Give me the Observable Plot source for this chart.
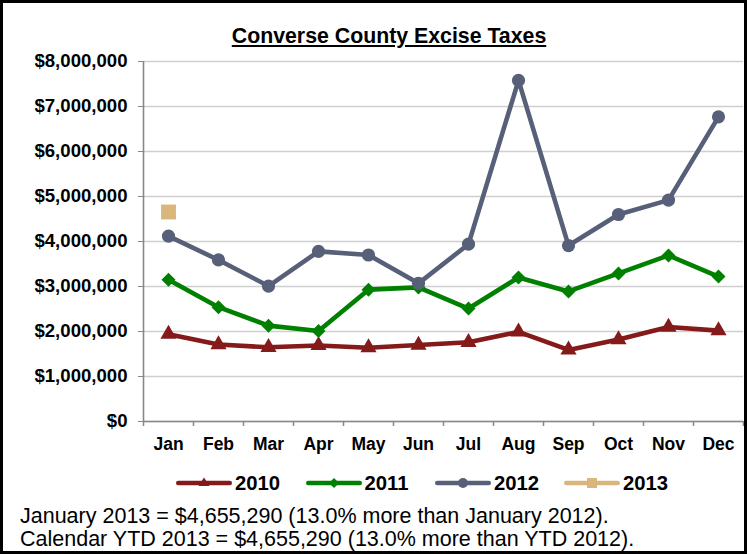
<!DOCTYPE html>
<html><head><meta charset="utf-8">
<script src="https://cdn.jsdelivr.net/npm/d3@7"></script>
<script src="https://cdn.jsdelivr.net/npm/@observablehq/plot@0.6"></script>
<style>
body{margin:0;background:#fff;font-family:"Liberation Sans",Arial,sans-serif;}
#wrap{position:relative;width:747px;height:554px;overflow:hidden;background:#fff;}
#frame{position:absolute;left:0;top:0;width:747px;height:554px;box-sizing:border-box;border:3px solid #000;pointer-events:none;}
#chart{position:absolute;left:0;top:0;}
#title{position:absolute;left:389px;top:25.5px;transform:translateX(-50%);font-weight:bold;font-size:21.3px;line-height:21px;text-decoration:underline;white-space:nowrap;color:#000;}
.leg{position:absolute;top:471px;height:24px;display:flex;align-items:center;font-weight:bold;font-size:20.3px;line-height:20px;color:#000;white-space:nowrap;}
.leg svg{margin-right:3px;}
#foot{position:absolute;left:20px;top:504.75px;font-size:21.5px;line-height:23px;color:#000;white-space:nowrap;}
</style></head>
<body>
<div id="wrap">
  <div id="chart"></div>
  <div id="title">Converse County Excise Taxes</div>
  <div id="legend"></div>
  <div id="foot">January 2013 = $4,655,290 (13.0% more than January 2012).<br>Calendar YTD 2013 = $4,655,290 (13.0% more than YTD 2012).</div>
  <div id="frame"></div>
</div>
<script>
const months = ["Jan","Feb","Mar","Apr","May","Jun","Jul","Aug","Sep","Oct","Nov","Dec"];
const v2010 = [1940000, 1710000, 1650000, 1690000, 1640000, 1700000, 1760000, 1990000, 1590000, 1820000, 2100000, 2020000];
const v2011 = [3150000, 2540000, 2130000, 2010000, 2930000, 2980000, 2510000, 3200000, 2890000, 3290000, 3690000, 3220000];
const v2012 = [4120000, 3590000, 3010000, 3780000, 3700000, 3070000, 3940000, 7580000, 3910000, 4600000, 4920000, 6770000];
const v2013 = [4655290];
const years = ["2010","2011","2012","2013"];
const colors = {"2010":"#851A1A","2011":"#008000","2012":"#576078","2013":"#D9B77C"};
const symbols = {"2010":"triangle","2011":"diamond2","2012":"circle","2013":"square"};
const radii = {"2010":6.0,"2011":6.3,"2012":6.6,"2013":8.4};
const yTicks = [0,1000000,2000000,3000000,4000000,5000000,6000000,7000000,8000000];

const series = {"2010":v2010,"2011":v2011,"2012":v2012,"2013":v2013};
const rows = y => series[y].map((v,i)=>({month:months[i], value:v, year:y}));

const marks = [
  Plot.gridY(yTicks, {stroke:"#cfcfcf", strokeOpacity:1, strokeWidth:1.4}),
  Plot.axisY(yTicks, {tickFormat:d3.format("$,"), tickSize:5, tickPadding:11, fontSize:18.6, fontWeight:"bold", stroke:"#888", fill:"#000", label:null}),
  Plot.axisX({tickSize:0, tickPadding:16, fontSize:17.5, fontWeight:"bold", fill:"#000", label:null}),
  Plot.ruleX(months, {x:d=>d, dx:-25, y1:0, y2:-110000, stroke:"#888", strokeWidth:1.5}),
  Plot.ruleX(["Dec"], {x:d=>d, dx:25, y1:0, y2:-110000, stroke:"#888", strokeWidth:1.5}),
  Plot.ruleX(["Jan"], {x:d=>d, dx:-25, y1:0, y2:8000000, stroke:"#888", strokeWidth:1.6}),
  Plot.ruleY([0], {stroke:"#888", strokeWidth:1.6})
];
for (const y of years) {
  const d = rows(y);
  if (d.length > 1) marks.push(Plot.line(d, {x:"month", y:"value", stroke:colors[y], strokeWidth:4.6, strokeLinejoin:"round"}));
  marks.push(Plot.dot(d, {x:"month", y:"value", symbol:symbols[y], r:radii[y], fill:colors[y], stroke:"none"}));
}

const chart = Plot.plot({
  width:747, height:460,
  marginTop:61, marginBottom:39, marginLeft:143, marginRight:4,
  style:{fontFamily:'"Liberation Sans", Arial, sans-serif', background:"transparent", overflow:"visible", color:"#000"},
  x:{type:"point", domain:months, padding:0.5, label:null},
  y:{domain:[0,8000000], label:null},
  marks
});
document.getElementById("chart").appendChild(chart);

// legend
const legLefts = [176, 305.5, 435, 564];
const legend = document.getElementById("legend");
years.forEach((y,i)=>{
  const div = document.createElement("div");
  div.className = "leg";
  div.style.left = legLefts[i] + "px";
  const c = colors[y];
  let marker;
  if (y==="2010") marker = `<path d="M28,2.5 L33.5,11 L22.5,11 Z" fill="${c}"/>`;
  else if (y==="2011") marker = `<path d="M28,3 L33,8 L28,13 L23,8 Z" fill="${c}"/>`;
  else if (y==="2012") marker = `<circle cx="28" cy="8" r="5" fill="${c}"/>`;
  else marker = `<rect x="23" y="3" width="10" height="10" fill="${c}"/>`;
  div.innerHTML = `<svg width="56" height="16" viewBox="0 0 56 16"><line x1="2.3" y1="8" x2="53.7" y2="8" stroke="${c}" stroke-width="4.6" stroke-linecap="round"/>${marker}</svg><span>${y}</span>`;
  legend.appendChild(div);
});
</script>
</body></html>
